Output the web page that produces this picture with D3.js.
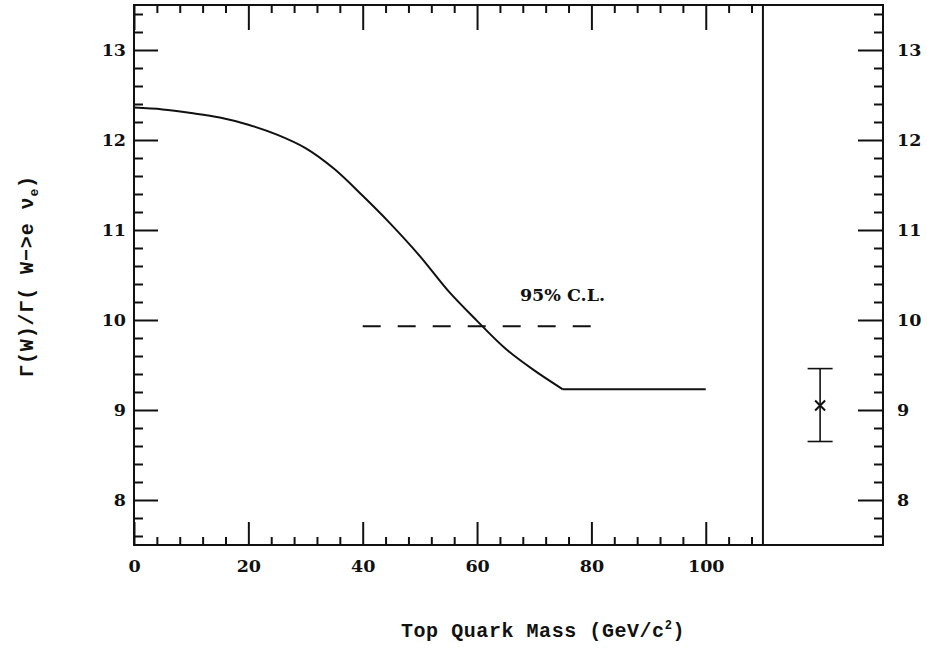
<!DOCTYPE html>
<html>
<head>
<meta charset="utf-8">
<script src="https://cdn.jsdelivr.net/npm/d3@7"></script>
<style>
  html, body { margin: 0; padding: 0; background: #fff; }
  svg { display: block; }
  .num { font-family: "DejaVu Serif", "Liberation Serif", serif; font-weight: bold; fill: #111; }
  .ttl { font-family: "Liberation Mono", "DejaVu Sans Mono", monospace; font-weight: bold; fill: #111; }
</style>
</head>
<body>
<svg id="chart" width="927" height="654"></svg>
<script>
// Width ratio Γ(W)/Γ(W→eν) versus top quark mass
const massPoints  = [0, 5, 10, 15, 20, 25, 30, 35, 40, 45, 50, 55, 60, 65, 70, 75];
const ratioPoints = [12.36, 12.34, 12.30, 12.25, 12.17, 12.06, 11.91, 11.68, 11.38, 11.06, 10.71, 10.32, 9.99, 9.68, 9.44, 9.23];
// plateau above the W decay threshold
const plateauMass  = [75, 100];
const plateauRatio = [9.23, 9.23];
// 95% confidence-level limit
const limitMass  = [40, 80];
const limitRatio = [9.93, 9.93];
const limitText  = "95% C.L.";
// measured value with its error bar
const measMass = [120];
const measValue = [9.05];
const measLow  = [8.65];
const measHigh = [9.46];
// axes
const xTickLabels = [0, 20, 40, 60, 80, 100];
const yTickLabels = [8, 9, 10, 11, 12, 13];
const xTitle = "Top Quark Mass (GeV/c";
const xTitleSup = "2";
const xTitleEnd = ")";

const svg = d3.select("#chart");
const INK = "#111";
const NUM_SIZE = "17.5px";

const x = d3.scaleLinear().domain([0, 131]).range([134, 883]);
const y = d3.scaleLinear().domain([7.5, 13.5]).range([545, 5]);
const splitMass = 110;

const xMinor = d3.range(4, 109, 4).filter(v => v % 20 !== 0);
const yMinor = d3.range(76, 135, 2).map(v => v / 10).filter(v => Math.abs(v - Math.round(v)) > 1e-6);

function styleAxis(g) {
  g.select(".domain").remove();
  g.selectAll(".tick line").attr("stroke", INK).attr("stroke-width", 2);
  g.selectAll(".tick text")
    .attr("class", "num")
    .attr("fill", INK)
    .style("font-size", NUM_SIZE);
}

// bottom axis
svg.append("g").attr("transform", `translate(0,${y(7.5)})`)
  .call(d3.axisBottom(x).tickValues(xTickLabels).tickSize(-23).tickPadding(15).tickFormat(d3.format("d")))
  .call(styleAxis);
svg.append("g").attr("transform", `translate(0,${y(7.5)})`)
  .call(d3.axisBottom(x).tickValues(xMinor).tickSize(-8).tickFormat(""))
  .call(styleAxis);
// top axis
svg.append("g").attr("transform", `translate(0,${y(13.5)})`)
  .call(d3.axisTop(x).tickValues(xTickLabels).tickSize(-25).tickFormat(""))
  .call(styleAxis);
svg.append("g").attr("transform", `translate(0,${y(13.5)})`)
  .call(d3.axisTop(x).tickValues(xMinor).tickSize(-8).tickFormat(""))
  .call(styleAxis);
// left axis
svg.append("g").attr("transform", `translate(${x(0)},0)`)
  .call(d3.axisLeft(y).tickValues(yTickLabels).tickSize(-24).tickPadding(8).tickFormat(d3.format("d")))
  .call(styleAxis);
svg.append("g").attr("transform", `translate(${x(0)},0)`)
  .call(d3.axisLeft(y).tickValues(yMinor).tickSize(-9).tickFormat(""))
  .call(styleAxis);
// right axis
svg.append("g").attr("transform", `translate(${x(131)},0)`)
  .call(d3.axisRight(y).tickValues(yTickLabels).tickSize(-25).tickPadding(14).tickFormat(d3.format("d")))
  .call(styleAxis);
svg.append("g").attr("transform", `translate(${x(131)},0)`)
  .call(d3.axisRight(y).tickValues(yMinor).tickSize(-9).tickFormat(""))
  .call(styleAxis);

// frame and divider between prediction and measurement panels
svg.append("rect")
  .attr("x", x(0)).attr("y", y(13.5))
  .attr("width", x(131) - x(0)).attr("height", y(7.5) - y(13.5))
  .attr("fill", "none").attr("stroke", INK).attr("stroke-width", 2);
svg.append("line")
  .attr("x1", x(splitMass)).attr("x2", x(splitMass))
  .attr("y1", y(13.5)).attr("y2", y(7.5))
  .attr("stroke", INK).attr("stroke-width", 2);

// predicted curve
const curveData = massPoints.map((m, i) => [m, ratioPoints[i]]);
svg.append("path")
  .datum(curveData)
  .attr("d", d3.line().x(d => x(d[0])).y(d => y(d[1])).curve(d3.curveCatmullRom.alpha(0.5)))
  .attr("fill", "none").attr("stroke", INK).attr("stroke-width", 2);
svg.append("path")
  .datum(plateauMass.map((m, i) => [m, plateauRatio[i]]))
  .attr("d", d3.line().x(d => x(d[0])).y(d => y(d[1])))
  .attr("fill", "none").attr("stroke", INK).attr("stroke-width", 2);

// 95% C.L. limit
svg.append("path")
  .datum(limitMass.map((m, i) => [m, limitRatio[i]]))
  .attr("d", d3.line().x(d => x(d[0])).y(d => y(d[1])))
  .attr("fill", "none").attr("stroke", INK).attr("stroke-width", 2)
  .attr("stroke-dasharray", "18,17");
svg.append("text").attr("class", "num")
  .attr("x", x(67.5)).attr("y", y(10.21))
  .style("font-size", NUM_SIZE)
  .text(limitText);

// measurement with error bar
const meas = svg.append("g");
measMass.forEach((m, i) => {
  const cx = x(m);
  meas.append("line").attr("x1", cx).attr("x2", cx).attr("y1", y(measHigh[i])).attr("y2", y(measLow[i]))
    .attr("stroke", INK).attr("stroke-width", 1.6);
  [measHigh[i], measLow[i]].forEach(v => {
    meas.append("line").attr("x1", cx - 12.5).attr("x2", cx + 12.5).attr("y1", y(v)).attr("y2", y(v))
      .attr("stroke", INK).attr("stroke-width", 1.6);
  });
  const cy = y(measValue[i]), s = 5;
  meas.append("path")
    .attr("d", `M${cx - s},${cy - s}L${cx + s},${cy + s}M${cx - s},${cy + s}L${cx + s},${cy - s}`)
    .attr("stroke", INK).attr("stroke-width", 2);
});

// spread a title's letters so that it spans the wanted width
function spreadTo(sel, width) {
  const n = sel.text().length;
  const w = sel.node().getBBox().width;
  sel.style("letter-spacing", ((width - w) / n) + "px");
}

// axis titles
const xt = svg.append("text").attr("class", "ttl")
  .attr("x", 543).attr("y", 637).attr("text-anchor", "middle")
  .style("font-size", "20px");
xt.append("tspan").text(xTitle);
xt.append("tspan").attr("dy", -8).style("font-size", "12px").text(xTitleSup);
xt.append("tspan").attr("dy", 8).text(xTitleEnd);
spreadTo(xt, 284);

const yt = svg.append("text").attr("class", "ttl")
  .attr("transform", "translate(33,276) rotate(-90)")
  .attr("text-anchor", "middle")
  .style("font-size", "20px");
yt.append("tspan").text("Γ(W)/Γ( W−>e ν");
yt.append("tspan").attr("dy", 5).style("font-size", "13px").text("e");
yt.append("tspan").attr("dy", -5).text(")");
spreadTo(yt, 202);
</script>
</body>
</html>
